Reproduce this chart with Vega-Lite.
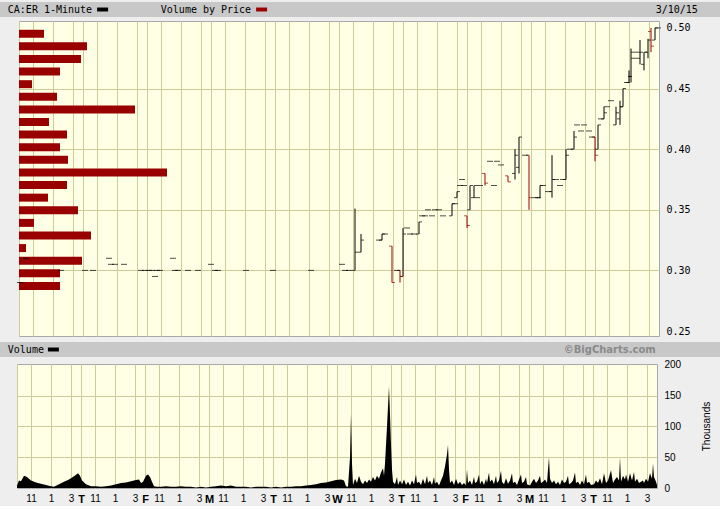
{
  "$schema": "https://vega.github.io/schema/vega-lite/v6.json",
  "background": "#EEEEEE",
  "padding": {"top": 2, "left": 0, "right": 0, "bottom": 1},
  "config": {"view": {"stroke": null}},
  "datasets": {
    "vbp": [
      {"price": 0.4952, "volume": 125}, {"price": 0.4848, "volume": 340}, {"price": 0.4744, "volume": 310},
      {"price": 0.4640, "volume": 205}, {"price": 0.4536, "volume": 65}, {"price": 0.4432, "volume": 190},
      {"price": 0.4328, "volume": 580}, {"price": 0.4224, "volume": 150}, {"price": 0.4120, "volume": 240},
      {"price": 0.4016, "volume": 205}, {"price": 0.3912, "volume": 245}, {"price": 0.3808, "volume": 740},
      {"price": 0.3704, "volume": 240}, {"price": 0.3600, "volume": 145}, {"price": 0.3496, "volume": 295},
      {"price": 0.3392, "volume": 75}, {"price": 0.3288, "volume": 360}, {"price": 0.3184, "volume": 35},
      {"price": 0.3080, "volume": 315}, {"price": 0.2976, "volume": 205}, {"price": 0.2872, "volume": 205}
    ],
    "bars": [
      {"t": 6, "o": 0.29, "h": 0.29, "l": 0.29, "c": 0.29},
      {"t": 42, "o": 0.31, "h": 0.31, "l": 0.31, "c": 0.31},
      {"t": 252, "o": 0.3, "h": 0.3, "l": 0.3, "c": 0.3},
      {"t": 396, "o": 0.3, "h": 0.3, "l": 0.3, "c": 0.3},
      {"t": 444, "o": 0.3, "h": 0.3, "l": 0.3, "c": 0.3},
      {"t": 540, "o": 0.31, "h": 0.31, "l": 0.31, "c": 0.31},
      {"t": 552, "o": 0.305, "h": 0.305, "l": 0.305, "c": 0.305},
      {"t": 576, "o": 0.305, "h": 0.305, "l": 0.305, "c": 0.305},
      {"t": 630, "o": 0.305, "h": 0.305, "l": 0.305, "c": 0.305},
      {"t": 732, "o": 0.3, "h": 0.3, "l": 0.3, "c": 0.3},
      {"t": 756, "o": 0.3, "h": 0.3, "l": 0.3, "c": 0.3},
      {"t": 780, "o": 0.3, "h": 0.3, "l": 0.3, "c": 0.3},
      {"t": 798, "o": 0.3, "h": 0.3, "l": 0.3, "c": 0.3},
      {"t": 816, "o": 0.295, "h": 0.295, "l": 0.295, "c": 0.295},
      {"t": 828, "o": 0.3, "h": 0.3, "l": 0.3, "c": 0.3},
      {"t": 846, "o": 0.3, "h": 0.3, "l": 0.3, "c": 0.3},
      {"t": 924, "o": 0.31, "h": 0.31, "l": 0.31, "c": 0.31},
      {"t": 936, "o": 0.3, "h": 0.3, "l": 0.3, "c": 0.3},
      {"t": 954, "o": 0.3, "h": 0.3, "l": 0.3, "c": 0.3},
      {"t": 1014, "o": 0.3, "h": 0.3, "l": 0.3, "c": 0.3},
      {"t": 1074, "o": 0.3, "h": 0.3, "l": 0.3, "c": 0.3},
      {"t": 1152, "o": 0.305, "h": 0.305, "l": 0.305, "c": 0.305},
      {"t": 1176, "o": 0.3, "h": 0.3, "l": 0.3, "c": 0.3},
      {"t": 1194, "o": 0.3, "h": 0.3, "l": 0.3, "c": 0.3},
      {"t": 1362, "o": 0.3, "h": 0.3, "l": 0.3, "c": 0.3},
      {"t": 1524, "o": 0.3, "h": 0.3, "l": 0.3, "c": 0.3},
      {"t": 1752, "o": 0.3, "h": 0.3, "l": 0.3, "c": 0.3},
      {"t": 1938, "o": 0.305, "h": 0.305, "l": 0.305, "c": 0.305},
      {"t": 1956, "o": 0.3, "h": 0.3, "l": 0.3, "c": 0.3},
      {"t": 1980, "o": 0.3, "h": 0.3, "l": 0.3, "c": 0.3},
      {"t": 2016, "o": 0.3, "h": 0.351, "l": 0.3, "c": 0.315},
      {"t": 2052, "o": 0.315, "h": 0.33, "l": 0.315, "c": 0.325},
      {"t": 2160, "o": 0.325, "h": 0.325, "l": 0.325, "c": 0.325},
      {"t": 2178, "o": 0.325, "h": 0.33, "l": 0.325, "c": 0.33},
      {"t": 2196, "o": 0.33, "h": 0.33, "l": 0.33, "c": 0.33},
      {"t": 2238, "o": 0.32, "h": 0.32, "l": 0.29, "c": 0.29},
      {"t": 2268, "o": 0.3, "h": 0.3, "l": 0.3, "c": 0.3},
      {"t": 2286, "o": 0.3, "h": 0.3, "l": 0.29, "c": 0.295},
      {"t": 2304, "o": 0.295, "h": 0.335, "l": 0.295, "c": 0.33},
      {"t": 2328, "o": 0.335, "h": 0.335, "l": 0.335, "c": 0.335},
      {"t": 2346, "o": 0.33, "h": 0.33, "l": 0.33, "c": 0.33},
      {"t": 2370, "o": 0.33, "h": 0.33, "l": 0.33, "c": 0.33},
      {"t": 2400, "o": 0.33, "h": 0.34, "l": 0.33, "c": 0.34},
      {"t": 2418, "o": 0.345, "h": 0.345, "l": 0.345, "c": 0.345},
      {"t": 2436, "o": 0.345, "h": 0.345, "l": 0.345, "c": 0.345},
      {"t": 2454, "o": 0.35, "h": 0.35, "l": 0.35, "c": 0.35},
      {"t": 2478, "o": 0.345, "h": 0.345, "l": 0.345, "c": 0.345},
      {"t": 2496, "o": 0.35, "h": 0.35, "l": 0.35, "c": 0.35},
      {"t": 2520, "o": 0.35, "h": 0.35, "l": 0.35, "c": 0.35},
      {"t": 2544, "o": 0.345, "h": 0.345, "l": 0.345, "c": 0.345},
      {"t": 2598, "o": 0.345, "h": 0.355, "l": 0.345, "c": 0.355},
      {"t": 2616, "o": 0.355, "h": 0.355, "l": 0.355, "c": 0.355},
      {"t": 2628, "o": 0.36, "h": 0.365, "l": 0.36, "c": 0.365},
      {"t": 2646, "o": 0.37, "h": 0.37, "l": 0.37, "c": 0.37},
      {"t": 2658, "o": 0.375, "h": 0.375, "l": 0.375, "c": 0.375},
      {"t": 2670, "o": 0.37, "h": 0.37, "l": 0.37, "c": 0.37},
      {"t": 2688, "o": 0.345, "h": 0.345, "l": 0.335, "c": 0.337},
      {"t": 2706, "o": 0.35, "h": 0.37, "l": 0.35, "c": 0.37},
      {"t": 2730, "o": 0.36, "h": 0.37, "l": 0.36, "c": 0.37},
      {"t": 2748, "o": 0.36, "h": 0.36, "l": 0.36, "c": 0.36},
      {"t": 2766, "o": 0.37, "h": 0.37, "l": 0.37, "c": 0.37},
      {"t": 2796, "o": 0.38, "h": 0.38, "l": 0.37, "c": 0.372},
      {"t": 2826, "o": 0.39, "h": 0.39, "l": 0.39, "c": 0.39},
      {"t": 2850, "o": 0.37, "h": 0.37, "l": 0.37, "c": 0.37},
      {"t": 2868, "o": 0.39, "h": 0.39, "l": 0.39, "c": 0.39},
      {"t": 2892, "o": 0.387, "h": 0.387, "l": 0.387, "c": 0.387},
      {"t": 2934, "o": 0.378, "h": 0.378, "l": 0.373, "c": 0.373},
      {"t": 2976, "o": 0.38, "h": 0.4, "l": 0.375, "c": 0.395},
      {"t": 3000, "o": 0.385, "h": 0.41, "l": 0.38, "c": 0.41},
      {"t": 3036, "o": 0.395, "h": 0.395, "l": 0.395, "c": 0.395},
      {"t": 3060, "o": 0.395, "h": 0.395, "l": 0.35, "c": 0.36},
      {"t": 3096, "o": 0.36, "h": 0.36, "l": 0.36, "c": 0.36},
      {"t": 3114, "o": 0.36, "h": 0.36, "l": 0.36, "c": 0.36},
      {"t": 3126, "o": 0.36, "h": 0.37, "l": 0.36, "c": 0.37},
      {"t": 3144, "o": 0.37, "h": 0.37, "l": 0.37, "c": 0.37},
      {"t": 3174, "o": 0.365, "h": 0.365, "l": 0.365, "c": 0.365},
      {"t": 3198, "o": 0.365, "h": 0.395, "l": 0.36, "c": 0.375},
      {"t": 3222, "o": 0.375, "h": 0.375, "l": 0.375, "c": 0.375},
      {"t": 3246, "o": 0.37, "h": 0.37, "l": 0.37, "c": 0.37},
      {"t": 3264, "o": 0.375, "h": 0.375, "l": 0.375, "c": 0.375},
      {"t": 3282, "o": 0.375, "h": 0.4, "l": 0.375, "c": 0.395},
      {"t": 3306, "o": 0.4, "h": 0.4, "l": 0.4, "c": 0.4},
      {"t": 3330, "o": 0.4, "h": 0.415, "l": 0.4, "c": 0.41},
      {"t": 3348, "o": 0.42, "h": 0.42, "l": 0.42, "c": 0.42},
      {"t": 3372, "o": 0.415, "h": 0.415, "l": 0.415, "c": 0.415},
      {"t": 3390, "o": 0.42, "h": 0.42, "l": 0.42, "c": 0.42},
      {"t": 3420, "o": 0.415, "h": 0.415, "l": 0.415, "c": 0.415},
      {"t": 3438, "o": 0.41, "h": 0.41, "l": 0.41, "c": 0.41},
      {"t": 3456, "o": 0.41, "h": 0.41, "l": 0.39, "c": 0.395},
      {"t": 3474, "o": 0.4, "h": 0.42, "l": 0.4, "c": 0.42},
      {"t": 3492, "o": 0.425, "h": 0.425, "l": 0.425, "c": 0.425},
      {"t": 3510, "o": 0.425, "h": 0.435, "l": 0.425, "c": 0.43},
      {"t": 3528, "o": 0.435, "h": 0.435, "l": 0.435, "c": 0.435},
      {"t": 3552, "o": 0.44, "h": 0.44, "l": 0.44, "c": 0.44},
      {"t": 3582, "o": 0.42, "h": 0.435, "l": 0.42, "c": 0.43},
      {"t": 3606, "o": 0.425, "h": 0.44, "l": 0.42, "c": 0.435},
      {"t": 3624, "o": 0.435, "h": 0.45, "l": 0.435, "c": 0.45},
      {"t": 3648, "o": 0.455, "h": 0.455, "l": 0.455, "c": 0.455},
      {"t": 3660, "o": 0.455, "h": 0.465, "l": 0.455, "c": 0.46},
      {"t": 3672, "o": 0.46, "h": 0.483, "l": 0.455, "c": 0.48},
      {"t": 3690, "o": 0.475, "h": 0.475, "l": 0.475, "c": 0.475},
      {"t": 3708, "o": 0.48, "h": 0.48, "l": 0.48, "c": 0.48},
      {"t": 3726, "o": 0.475, "h": 0.49, "l": 0.47, "c": 0.48},
      {"t": 3750, "o": 0.47, "h": 0.48, "l": 0.465, "c": 0.48},
      {"t": 3774, "o": 0.48, "h": 0.491, "l": 0.475, "c": 0.49},
      {"t": 3792, "o": 0.497, "h": 0.5, "l": 0.48, "c": 0.485},
      {"t": 3816, "o": 0.49, "h": 0.5, "l": 0.49, "c": 0.5},
      {"t": 3834, "o": 0.5, "h": 0.5, "l": 0.5, "c": 0.5}
    ],
    "vol": [
      {"t": 0, "v": 4}, {"t": 12, "v": 12}, {"t": 24, "v": 11}, {"t": 42, "v": 20}, {"t": 60, "v": 18}, {"t": 84, "v": 12}, {"t": 114, "v": 9}, {"t": 144, "v": 7}, {"t": 174, "v": 5}, {"t": 204, "v": 3}, {"t": 222, "v": 2}, {"t": 252, "v": 6}, {"t": 282, "v": 10}, {"t": 312, "v": 14}, {"t": 342, "v": 19}, {"t": 366, "v": 24}, {"t": 378, "v": 20},
      {"t": 390, "v": 12}, {"t": 414, "v": 6}, {"t": 444, "v": 3}, {"t": 474, "v": 3}, {"t": 504, "v": 2}, {"t": 534, "v": 3}, {"t": 564, "v": 4}, {"t": 594, "v": 6}, {"t": 624, "v": 8}, {"t": 654, "v": 9}, {"t": 684, "v": 11}, {"t": 714, "v": 13}, {"t": 732, "v": 14}, {"t": 744, "v": 8}, {"t": 756, "v": 10}, {"t": 774, "v": 20}, {"t": 786, "v": 22}, {"t": 798, "v": 18}, {"t": 810, "v": 10}, {"t": 822, "v": 3},
      {"t": 840, "v": 2}, {"t": 864, "v": 2}, {"t": 894, "v": 3}, {"t": 924, "v": 2}, {"t": 954, "v": 2}, {"t": 984, "v": 3}, {"t": 1014, "v": 2}, {"t": 1044, "v": 2}, {"t": 1074, "v": 1}, {"t": 1104, "v": 2}, {"t": 1134, "v": 1},
      {"t": 1164, "v": 2}, {"t": 1194, "v": 3}, {"t": 1224, "v": 4}, {"t": 1254, "v": 3}, {"t": 1284, "v": 4}, {"t": 1314, "v": 2}, {"t": 1344, "v": 2}, {"t": 1374, "v": 2}, {"t": 1404, "v": 1}, {"t": 1434, "v": 2}, {"t": 1464, "v": 2}, {"t": 1494, "v": 2}, {"t": 1524, "v": 1},
      {"t": 1554, "v": 2}, {"t": 1584, "v": 1}, {"t": 1614, "v": 2}, {"t": 1644, "v": 2}, {"t": 1674, "v": 3}, {"t": 1704, "v": 3}, {"t": 1734, "v": 4}, {"t": 1764, "v": 5}, {"t": 1794, "v": 6}, {"t": 1824, "v": 8}, {"t": 1854, "v": 9}, {"t": 1884, "v": 11}, {"t": 1914, "v": 13}, {"t": 1944, "v": 14}, {"t": 1962, "v": 12}, {"t": 1974, "v": 3},
      {"t": 1986, "v": 2}, {"t": 1998, "v": 50}, {"t": 2004, "v": 120}, {"t": 2010, "v": 40}, {"t": 2016, "v": 5}, {"t": 2028, "v": 15}, {"t": 2040, "v": 8}, {"t": 2052, "v": 20}, {"t": 2064, "v": 10}, {"t": 2076, "v": 6}, {"t": 2088, "v": 12}, {"t": 2100, "v": 8}, {"t": 2112, "v": 14}, {"t": 2124, "v": 10}, {"t": 2136, "v": 18}, {"t": 2148, "v": 12}, {"t": 2160, "v": 20}, {"t": 2172, "v": 15}, {"t": 2184, "v": 25}, {"t": 2196, "v": 32}, {"t": 2202, "v": 20}, {"t": 2208, "v": 40}, {"t": 2220, "v": 100}, {"t": 2232, "v": 165}, {"t": 2238, "v": 120}, {"t": 2244, "v": 70}, {"t": 2250, "v": 30}, {"t": 2256, "v": 10}, {"t": 2268, "v": 6}, {"t": 2280, "v": 18}, {"t": 2286, "v": 5}, {"t": 2298, "v": 12},
      {"t": 2310, "v": 6}, {"t": 2322, "v": 14}, {"t": 2334, "v": 5}, {"t": 2346, "v": 10}, {"t": 2358, "v": 4}, {"t": 2370, "v": 12}, {"t": 2382, "v": 6}, {"t": 2394, "v": 22}, {"t": 2400, "v": 8}, {"t": 2412, "v": 10}, {"t": 2424, "v": 5}, {"t": 2436, "v": 15}, {"t": 2448, "v": 6}, {"t": 2460, "v": 20}, {"t": 2466, "v": 8}, {"t": 2478, "v": 12}, {"t": 2490, "v": 5}, {"t": 2502, "v": 18}, {"t": 2508, "v": 7}, {"t": 2520, "v": 10}, {"t": 2532, "v": 4}, {"t": 2544, "v": 12}, {"t": 2556, "v": 20}, {"t": 2568, "v": 35}, {"t": 2580, "v": 55}, {"t": 2586, "v": 70}, {"t": 2592, "v": 30}, {"t": 2598, "v": 8}, {"t": 2610, "v": 12}, {"t": 2622, "v": 5}, {"t": 2634, "v": 15}, {"t": 2646, "v": 6}, {"t": 2658, "v": 10}, {"t": 2670, "v": 5}, {"t": 2682, "v": 8},
      {"t": 2694, "v": 4}, {"t": 2700, "v": 30}, {"t": 2706, "v": 8}, {"t": 2718, "v": 12}, {"t": 2730, "v": 5}, {"t": 2742, "v": 18}, {"t": 2748, "v": 8}, {"t": 2760, "v": 10}, {"t": 2772, "v": 22}, {"t": 2778, "v": 6}, {"t": 2790, "v": 12}, {"t": 2802, "v": 5}, {"t": 2814, "v": 15}, {"t": 2820, "v": 8}, {"t": 2832, "v": 25}, {"t": 2838, "v": 10}, {"t": 2850, "v": 14}, {"t": 2862, "v": 6}, {"t": 2874, "v": 20}, {"t": 2880, "v": 8}, {"t": 2892, "v": 12}, {"t": 2904, "v": 28}, {"t": 2910, "v": 10}, {"t": 2922, "v": 6}, {"t": 2934, "v": 16}, {"t": 2946, "v": 7}, {"t": 2958, "v": 12}, {"t": 2970, "v": 24}, {"t": 2976, "v": 8}, {"t": 2988, "v": 10}, {"t": 3000, "v": 5}, {"t": 3012, "v": 14}, {"t": 3024, "v": 22}, {"t": 3030, "v": 8}, {"t": 3042, "v": 10}, {"t": 3054, "v": 18}, {"t": 3060, "v": 6},
      {"t": 3078, "v": 4}, {"t": 3090, "v": 10}, {"t": 3102, "v": 15}, {"t": 3114, "v": 8}, {"t": 3126, "v": 12}, {"t": 3138, "v": 20}, {"t": 3144, "v": 8}, {"t": 3156, "v": 10}, {"t": 3168, "v": 14}, {"t": 3180, "v": 8}, {"t": 3186, "v": 30}, {"t": 3192, "v": 50}, {"t": 3198, "v": 15}, {"t": 3210, "v": 8}, {"t": 3222, "v": 12}, {"t": 3234, "v": 6}, {"t": 3246, "v": 10}, {"t": 3258, "v": 5}, {"t": 3270, "v": 14}, {"t": 3282, "v": 8}, {"t": 3294, "v": 10}, {"t": 3306, "v": 20}, {"t": 3312, "v": 6}, {"t": 3324, "v": 8}, {"t": 3336, "v": 12}, {"t": 3348, "v": 25}, {"t": 3354, "v": 8}, {"t": 3366, "v": 10}, {"t": 3378, "v": 5}, {"t": 3390, "v": 12}, {"t": 3402, "v": 6}, {"t": 3414, "v": 22}, {"t": 3420, "v": 8}, {"t": 3432, "v": 10}, {"t": 3444, "v": 5},
      {"t": 3462, "v": 6}, {"t": 3474, "v": 12}, {"t": 3486, "v": 8}, {"t": 3498, "v": 16}, {"t": 3510, "v": 6}, {"t": 3522, "v": 24}, {"t": 3534, "v": 8}, {"t": 3546, "v": 12}, {"t": 3564, "v": 29}, {"t": 3576, "v": 8}, {"t": 3588, "v": 14}, {"t": 3600, "v": 18}, {"t": 3612, "v": 12}, {"t": 3618, "v": 50}, {"t": 3624, "v": 10}, {"t": 3636, "v": 20}, {"t": 3648, "v": 14}, {"t": 3654, "v": 22}, {"t": 3666, "v": 10}, {"t": 3678, "v": 24}, {"t": 3690, "v": 12}, {"t": 3702, "v": 26}, {"t": 3708, "v": 10}, {"t": 3720, "v": 15}, {"t": 3732, "v": 8}, {"t": 3744, "v": 10}, {"t": 3756, "v": 12}, {"t": 3762, "v": 8}, {"t": 3774, "v": 15}, {"t": 3786, "v": 10}, {"t": 3798, "v": 24}, {"t": 3810, "v": 15}, {"t": 3816, "v": 40}, {"t": 3822, "v": 18}, {"t": 3834, "v": 10}, {"t": 3840, "v": 5}
    ]
  },
  "columns": 1,
  "spacing": 5,
  "concat": [
    {
      "columns": 1,
      "spacing": 3,
      "concat": [
        {
          "width": 720,
          "height": 15,
          "view": {"fill": "#C8C8C8", "stroke": null},
          "layer": [
            {
              "data": {"values": [{"label": "CA:ER 1-Minute", "col": 1.3}, {"label": "Volume by Price", "col": 26.8}]},
              "mark": {"type": "text", "align": "left", "baseline": "middle", "font": "DejaVu Sans Mono", "fontSize": 10, "color": "#000000"},
              "encoding": {
                "x": {"field": "col", "type": "quantitative", "scale": {"domain": [0, 120], "nice": false}, "axis": null},
                "text": {"field": "label"}
              }
            },
            {
              "data": {"values": [{"label": "3/10/15", "col": 116.3}]},
              "mark": {"type": "text", "align": "right", "baseline": "middle", "font": "DejaVu Sans Mono", "fontSize": 10, "color": "#000000"},
              "encoding": {
                "x": {"field": "col", "type": "quantitative", "scale": {"domain": [0, 120], "nice": false}, "axis": null},
                "text": {"field": "label"}
              }
            },
            {
              "data": {"values": [{"series": "CA:ER 1-Minute", "col": 17.1}, {"series": "Volume by Price", "col": 43.6}]},
              "mark": {"type": "point", "filled": true, "opacity": 1, "shape": "M-1,-0.36L1,-0.36L1,0.36L-1,0.36Z", "size": 121},
              "encoding": {
                "x": {"field": "col", "type": "quantitative", "scale": {"domain": [0, 120], "nice": false}, "axis": null},
                "color": {"field": "series", "type": "nominal", "scale": {"domain": ["CA:ER 1-Minute", "Volume by Price"], "range": ["#000000", "#990000"]}, "legend": null}
              }
            }
          ]
        },
        {
          "spacing": 0,
          "hconcat": [
            {"width": 16, "height": 10, "data": {"values": []}, "mark": "point"},
            {
              "width": 640,
              "height": 315,
              "view": {"fill": "#FFFFE6", "stroke": "#A8A8A8"},
              "layer": [
                {
                  "data": {"name": "vbp"},
                  "mark": {"type": "bar", "orient": "horizontal", "size": 8, "color": "#990000"},
                  "encoding": {
                    "x": {"field": "volume", "type": "quantitative", "scale": {"domain": [0, 3200], "nice": false}, "axis": null},
                    "y": {"field": "price", "type": "quantitative", "scale": {"domain": [0.25, 0.5016], "nice": false, "zero": false},
                      "axis": {"orient": "right", "values": [0.25, 0.3, 0.35, 0.4, 0.45, 0.5], "format": ".2f", "labelFont": "DejaVu Sans Mono", "labelFontSize": 10, "labelColor": "#000000", "labelPadding": 7, "labelFlush": false, "labelOverlap": false, "ticks": false, "domain": false, "grid": true, "gridColor": "#CCCC99", "gridOpacity": {"condition": {"test": "datum.value > 0.47 || datum.value < 0.27", "value": 0}, "value": 1}, "title": null}}
                  }
                },
                {
                  "data": {"name": "bars"},
                  "encoding": {
                    "x": {"field": "t", "type": "quantitative", "scale": {"domain": [0, 3840], "nice": false, "zero": false},
                      "axis": {"orient": "bottom", "values": [0, 84, 204, 324, 384, 468, 588, 708, 768, 852, 972, 1092, 1152, 1236, 1356, 1476, 1536, 1620, 1740, 1860, 1920, 2004, 2124, 2244, 2304, 2388, 2508, 2628, 2688, 2772, 2892, 3012, 3072, 3156, 3276, 3396, 3456, 3540, 3660, 3780],
                        "labels": false, "ticks": false, "domain": false, "grid": true, "gridColor": "#CCCC99", "gridOpacity": 1, "title": null}},
                    "color": {"condition": {"test": "datum.c < datum.o", "value": "#990000"}, "value": "#000000"}
                  },
                  "layer": [
                    {
                      "mark": {"type": "rule", "strokeWidth": 1},
                      "encoding": {
                        "y": {"field": "l", "type": "quantitative", "scale": {"domain": [0.25, 0.5016], "nice": false, "zero": false},
                          "axis": {"orient": "right", "values": [0.25, 0.3, 0.35, 0.4, 0.45, 0.5], "format": ".2f", "labelFont": "DejaVu Sans Mono", "labelFontSize": 10, "labelColor": "#000000", "labelPadding": 7, "labelFlush": false, "labelOverlap": false, "ticks": false, "domain": false, "grid": true, "gridColor": "#CCCC99", "gridOpacity": {"condition": {"test": "datum.value > 0.47 || datum.value < 0.27", "value": 0}, "value": 1}, "title": null}},
                        "y2": {"field": "h"}
                      }
                    },
                    {
                      "mark": {"type": "tick", "orient": "horizontal", "size": 3, "thickness": 1, "xOffset": -1.5},
                      "encoding": {
                        "y": {"field": "o", "type": "quantitative", "scale": {"domain": [0.25, 0.5016], "nice": false, "zero": false},
                          "axis": {"orient": "right", "values": [0.25, 0.3, 0.35, 0.4, 0.45, 0.5], "format": ".2f", "labelFont": "DejaVu Sans Mono", "labelFontSize": 10, "labelColor": "#000000", "labelPadding": 7, "labelFlush": false, "labelOverlap": false, "ticks": false, "domain": false, "grid": true, "gridColor": "#CCCC99", "gridOpacity": {"condition": {"test": "datum.value > 0.47 || datum.value < 0.27", "value": 0}, "value": 1}, "title": null}}
                      }
                    },
                    {
                      "mark": {"type": "tick", "orient": "horizontal", "size": 3, "thickness": 1, "xOffset": 1.5},
                      "encoding": {
                        "y": {"field": "c", "type": "quantitative", "scale": {"domain": [0.25, 0.5016], "nice": false, "zero": false},
                          "axis": {"orient": "right", "values": [0.25, 0.3, 0.35, 0.4, 0.45, 0.5], "format": ".2f", "labelFont": "DejaVu Sans Mono", "labelFontSize": 10, "labelColor": "#000000", "labelPadding": 7, "labelFlush": false, "labelOverlap": false, "ticks": false, "domain": false, "grid": true, "gridColor": "#CCCC99", "gridOpacity": {"condition": {"test": "datum.value > 0.47 || datum.value < 0.27", "value": 0}, "value": 1}, "title": null}}
                      }
                    }
                  ]
                }
              ],
              "resolve": {"scale": {"x": "independent"}}
            }
          ]
        }
      ]
    },
    {
      "columns": 1,
      "spacing": 2,
      "concat": [
        {
          "width": 720,
          "height": 15,
          "view": {"fill": "#C8C8C8", "stroke": null},
          "layer": [
            {
              "data": {"values": [{"label": "Volume", "col": 1.3}]},
              "mark": {"type": "text", "align": "left", "baseline": "middle", "font": "DejaVu Sans Mono", "fontSize": 10, "color": "#000000"},
              "encoding": {
                "x": {"field": "col", "type": "quantitative", "scale": {"domain": [0, 120], "nice": false}, "axis": null},
                "text": {"field": "label"}
              }
            },
            {
              "data": {"values": [{"label": "©BigCharts.com", "col": 109.3}]},
              "mark": {"type": "text", "align": "right", "baseline": "middle", "font": "DejaVu Sans", "fontSize": 10, "fontWeight": "bold", "color": "#8A8A8A"},
              "encoding": {
                "x": {"field": "col", "type": "quantitative", "scale": {"domain": [0, 120], "nice": false}, "axis": null},
                "text": {"field": "label"}
              }
            },
            {
              "data": {"values": [{"series": "Volume", "col": 8.9}]},
              "mark": {"type": "point", "filled": true, "opacity": 1, "shape": "M-1,-0.36L1,-0.36L1,0.36L-1,0.36Z", "size": 121, "color": "#000000"},
              "encoding": {
                "x": {"field": "col", "type": "quantitative", "scale": {"domain": [0, 120], "nice": false}, "axis": null}
              }
            }
          ]
        },
        {
          "spacing": 0,
          "hconcat": [
            {"width": 16, "height": 10, "data": {"values": []}, "mark": "point"},
            {
              "width": 640,
              "height": 124,
              "view": {"fill": "#FFFFE6", "stroke": "#A8A8A8"},
              "data": {"name": "vol"},
              "mark": {"type": "area", "color": "#000000", "interpolate": "linear", "opacity": 1},
              "encoding": {
                "x": {"field": "t", "type": "quantitative", "scale": {"domain": [0, 3840], "nice": false, "zero": false},
                  "axis": {"orient": "bottom", "values": [0, 84, 204, 324, 384, 468, 588, 708, 768, 852, 972, 1092, 1152, 1236, 1356, 1476, 1536, 1620, 1740, 1860, 1920, 2004, 2124, 2244, 2304, 2388, 2508, 2628, 2688, 2772, 2892, 3012, 3072, 3156, 3276, 3396, 3456, 3540, 3660, 3780],
                    "labelExpr": "datum.value % 384 == 0 ? ['', 'T', 'F', 'M', 'T', 'W', 'T', 'F', 'M', 'T'][datum.value / 384] : (datum.value % 384 == 84 ? '11' : (datum.value % 384 == 204 ? '1' : '3'))",
                    "labelFont": "Liberation Sans",
                    "labelFontSize": {"condition": {"test": "datum.value % 384 == 0", "value": 11}, "value": 10},
                    "labelFontWeight": {"condition": {"test": "datum.value % 384 == 0", "value": "bold"}, "value": "normal"},
                    "labelColor": "#000000", "labelPadding": 5, "labelFlush": false, "labelOverlap": false, "labelBound": false,
                    "ticks": false, "domain": false, "grid": true, "gridColor": "#CCCC99", "title": null}},
                "y": {"field": "v", "type": "quantitative", "scale": {"domain": [0, 201.6], "nice": false},
                  "axis": {"orient": "right", "values": [0, 50, 100, 150, 200], "labelFont": "Liberation Sans", "labelFontSize": 10, "labelColor": "#000000", "labelPadding": 7, "labelFlush": false, "ticks": false, "domain": false, "grid": true, "gridColor": "#CCCC99", "gridOpacity": {"condition": {"test": "datum.value > 190 || datum.value < 10", "value": 0}, "value": 1},
                    "title": "Thousands", "titleFont": "Liberation Sans", "titleFontSize": 10, "titleFontWeight": "normal", "titleColor": "#000000", "titleAngle": 270, "titlePadding": 31}}
              }
            }
          ]
        }
      ]
    }
  ]
}
